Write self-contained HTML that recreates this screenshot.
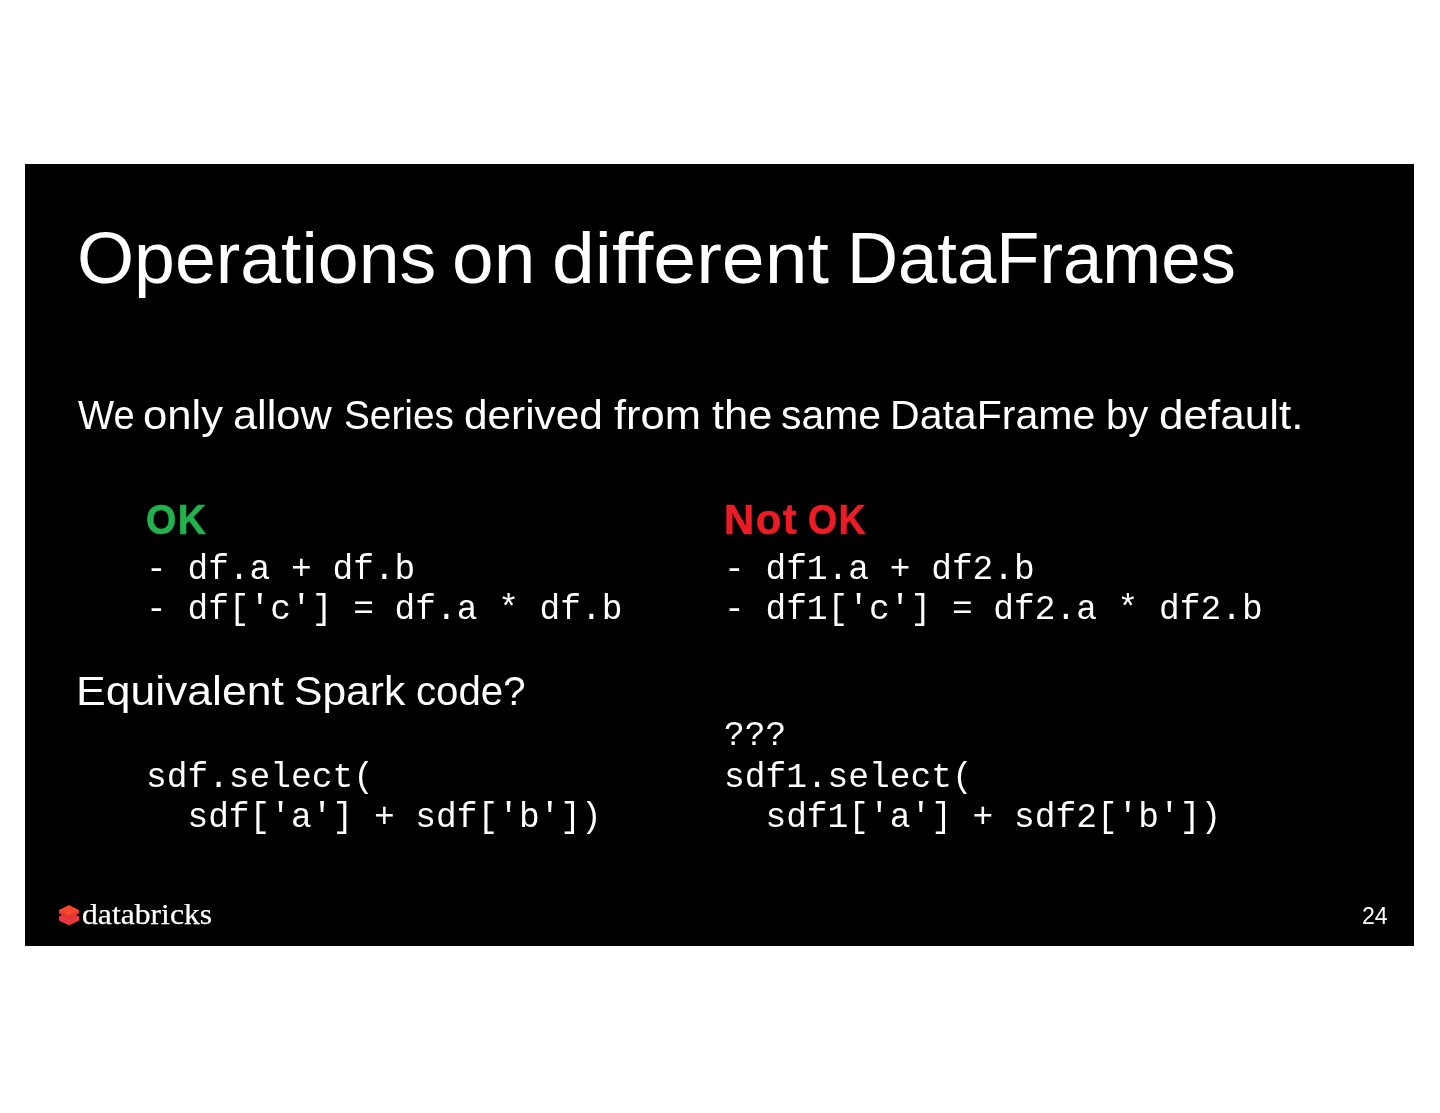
<!DOCTYPE html>
<html lang="en">
<head>
<meta charset="utf-8">
<title>Operations on different DataFrames</title>
<style>
  html, body { margin: 0; padding: 0; background: #fff; }
  body { width: 1440px; height: 1113px; position: relative; overflow: hidden; font-family: "Liberation Sans", sans-serif; }
  .slide { position: absolute; left: 25px; top: 164px; width: 1389px; height: 782px; background: #000; overflow: hidden; will-change: transform; }
  .t { position: absolute; white-space: pre; color: #fff; line-height: 1; margin: 0; padding: 0; font-weight: normal; transform-origin: 0 0; }
  .w { display: inline-block; vertical-align: baseline; transform-origin: 0 0; white-space: pre; }
  .sans { font-family: "Liberation Sans", sans-serif; }
  .mono { font-family: "Liberation Mono", monospace; }
  .serif { font-family: "Liberation Serif", serif; -webkit-text-stroke: 0.25px; }
  .hd { font-weight: bold; -webkit-text-stroke: 0.6px; letter-spacing: 1.6px; }
  .ok { color: #22b14c; }
  .nok { color: #ed1c24; }
</style>
</head>
<body>
<div class="slide">
  <h1 id="title" class="t sans" style="left:52.30px;top:58.20px;font-size:72.5px;width:1152px;height:72.5px"><span class="w" style="width:374.92px;transform:scaleX(1.0129)">Operations </span><span class="w" style="width:100.09px;transform:scaleX(1.0327)">on </span><span class="w" style="width:294.44px;transform:scaleX(1.0625)">different </span><span class="w" style="transform:scaleX(0.9750)">DataFrames</span></h1>
  <p id="b1" class="t sans" style="left:52.56px;top:230.01px;font-size:41.5px;width:1222px;height:41.5px"><span class="w" style="width:65.28px;transform:scaleX(0.9213)">We </span><span class="w" style="width:90.07px;transform:scaleX(1.0505)">only </span><span class="w" style="width:110.86px;transform:scaleX(1.0434)">allow </span><span class="w" style="width:120.73px;transform:scaleX(0.9343)">Series </span><span class="w" style="width:149.93px;transform:scaleX(1.0194)">derived </span><span class="w" style="width:97.19px;transform:scaleX(1.0482)">from </span><span class="w" style="width:69.89px;transform:scaleX(1.0444)">the </span><span class="w" style="width:108.72px;transform:scaleX(0.9843)">same </span><span class="w" style="width:216.01px;transform:scaleX(0.9886)">DataFrame </span><span class="w" style="width:53.03px;transform:scaleX(0.9636)">by </span><span class="w" style="transform:scaleX(1.0605)">default.</span></p>
  <div id="ok" class="t sans hd ok" style="left:120.66px;top:334.61px;font-size:42.5px;width:58px;height:42.5px"><span class="w" style="transform:scaleX(0.9183)">OK</span></div>
  <div id="nok" class="t sans hd nok" style="left:698.79px;top:334.61px;font-size:42.5px;width:139px;height:42.5px"><span class="w" style="width:83.76px;transform:scaleX(0.9827)">Not </span><span class="w" style="transform:scaleX(0.8836)">OK</span></div>
  <pre id="l1" class="t mono" style="left:120.50px;top:388.76px;font-size:34.6px;transform:scaleX(0.9984)">- df.a + df.b</pre>
  <pre id="l2" class="t mono" style="left:120.50px;top:428.76px;font-size:34.6px;transform:scaleX(0.9984)">- df['c'] = df.a * df.b</pre>
  <pre id="r1" class="t mono" style="left:698.60px;top:388.76px;font-size:34.6px;transform:scaleX(0.9984)">- df1.a + df2.b</pre>
  <pre id="r2" class="t mono" style="left:698.60px;top:428.76px;font-size:34.6px;transform:scaleX(0.9984)">- df1['c'] = df2.a * df2.b</pre>
  <p id="b2" class="t sans" style="left:51.05px;top:505.80px;font-size:41.5px;width:444px;height:41.5px"><span class="w" style="width:218.09px;transform:scaleX(1.0719)">Equivalent </span><span class="w" style="width:122.33px;transform:scaleX(1.0257)">Spark </span><span class="w" style="transform:scaleX(0.9684)">code?</span></p>
  <pre id="r3" class="t mono" style="left:698.60px;top:555.26px;font-size:34.6px;transform:scaleX(0.9984)">???</pre>
  <pre id="l3" class="t mono" style="left:120.50px;top:596.81px;font-size:34.6px;transform:scaleX(0.9984)">sdf.select(</pre>
  <pre id="l4" class="t mono" style="left:120.50px;top:636.81px;font-size:34.6px;transform:scaleX(0.9984)">  sdf['a'] + sdf['b'])</pre>
  <pre id="r4" class="t mono" style="left:698.60px;top:596.81px;font-size:34.6px;transform:scaleX(0.9984)">sdf1.select(</pre>
  <pre id="r5" class="t mono" style="left:698.60px;top:636.81px;font-size:34.6px;transform:scaleX(0.9984)">  sdf1['a'] + sdf2['b'])</pre>
  <svg id="logo" class="t" style="left:33px;top:740px" width="24" height="24" viewBox="58 904 24 24">
    <polygon points="69,911.5 79.2,916.4 79.2,920.4 69,925.6 58.9,920.4 58.9,916.4" fill="#e9383d"/>
    <polygon points="69,905.3 79.2,910.2 79.2,913.3 69,918.4 58.9,913.3 58.9,910.2" fill="#e83a35"/>
    <polygon points="69,905.3 79.2,910.2 69,915.1 58.9,910.2" fill="#f9492a"/>
    <polyline points="62,914.9 69,918.4 76,914.9" fill="none" stroke="#d02f2f" stroke-width="0.8"/>
  </svg>
  <div id="brand" class="t serif" style="left:56.99px;top:735.60px;font-size:29.5px;width:128px;height:29.5px"><span class="w" style="transform:scaleX(1.0732)">databricks</span></div>
  <div id="pg" class="t sans" style="left:1336.52px;top:740.90px;font-size:23.2px;width:24px;height:23.2px"><span class="w" style="transform:scaleX(0.9969)">24</span></div>
</div>
</body>
</html>
